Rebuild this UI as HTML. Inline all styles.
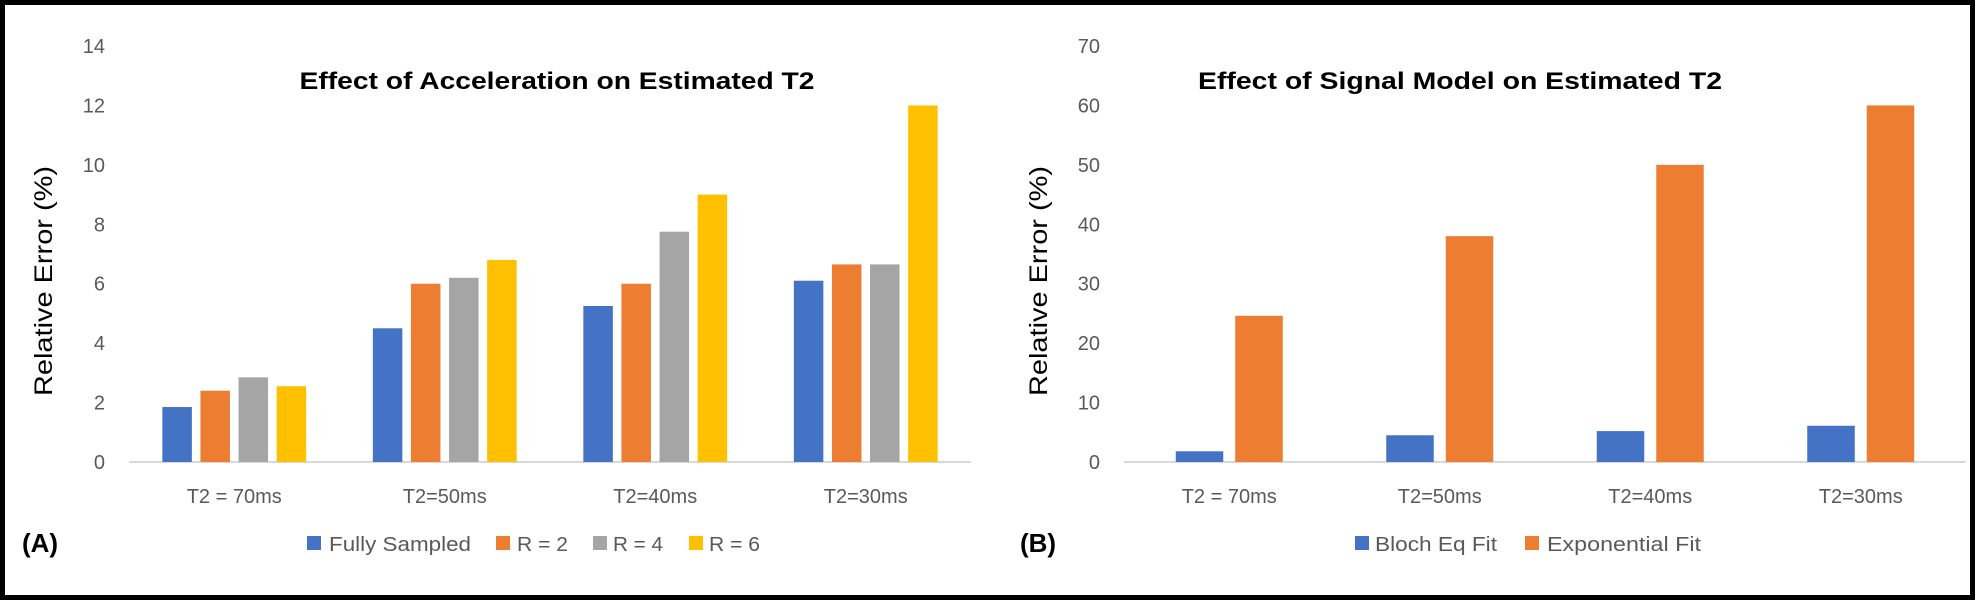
<!DOCTYPE html>
<html><head><meta charset="utf-8"><style>
html,body{margin:0;padding:0;background:#fff;width:1986px;height:600px;overflow:hidden}
svg{display:block;font-family:"Liberation Sans",sans-serif}
</style></head><body>
<svg id="fig" width="1986" height="600" viewBox="0 0 1986 600">
<rect x="2.5" y="2.5" width="1970" height="595" fill="none" stroke="#000" stroke-width="5"/>
</svg>
<script>
const categories = ["T2 = 70ms","T2=50ms","T2=40ms","T2=30ms"];
const seriesA = ["Fully Sampled","R = 2","R = 4","R = 6"];
const valuesA_full = [1.85,4.5,5.25,6.1];
const valuesA_r2 = [2.4,6.0,6.0,6.65];
const valuesA_r4 = [2.85,6.2,7.75,6.65];
const valuesA_r6 = [2.55,6.8,9.0,12.0];
const ticksA = [0,2,4,6,8,10,12,14];
const seriesB = ["Bloch Eq Fit","Exponential Fit"];
const valuesB_bloch = [1.8,4.5,5.2,6.1];
const valuesB_exp = [24.6,38,50,60];
const ticksB = [0,10,20,30,40,50,60,70];

const NS="http://www.w3.org/2000/svg";
const svg=document.getElementById('fig');
function mk(tag,attrs,parent,text){const e=document.createElementNS(NS,tag);for(const k in attrs)e.setAttribute(k,attrs[k]);if(text!=null)e.textContent=text;(parent||svg).appendChild(e);return e;}

function chart(cfg){
  const g=mk('g',{});
  
  
  const y0=462,yTop=46,maxV=cfg.ticks[cfg.ticks.length-1];
  const yS=v=>y0-(v/maxV)*(y0-yTop);
  const step=(cfg.x1-cfg.x0)/cfg.cats.length;
  const xC=i=>cfg.x0+step*(i+0.5);
  cfg.ticks.forEach(t=>{
    const e=mk('text',{x:cfg.tickX,y:yS(t)+7,'text-anchor':'end','font-size':20,fill:'#595959'},g,String(t));
    
    
  });
  const ax=mk('line',{x1:cfg.x0,x2:cfg.x1,y1:y0,y2:y0,stroke:'#d9d9d9','stroke-width':2},g);
  
  
  const n=cfg.series.length,groupW=n*cfg.bw+(n-1)*cfg.gap;
  cfg.series.forEach((vals,s)=>{
    vals.forEach((v,i)=>{
      const x=xC(i)-groupW/2+s*(cfg.bw+cfg.gap);
      const r=mk('rect',{x:x,y:yS(v),width:cfg.bw,height:y0-yS(v),fill:cfg.colors[s]},g);
      
      
    });
  });
  cfg.cats.forEach((c,i)=>{
    const e=mk('text',{x:xC(i),y:503,'text-anchor':'middle','font-size':20,fill:'#595959'},g,c);
    
    
  });
  const tt=mk('text',{x:cfg.titleX,y:89,'text-anchor':'middle','font-size':24,'font-weight':'bold',fill:'#000',textLength:cfg.titleW,lengthAdjust:'spacingAndGlyphs'},g,cfg.title);
  
  
  const yt=mk('text',{x:0,y:0,'text-anchor':'middle','font-size':25,fill:'#000',transform:`translate(${cfg.yTitleX},281) rotate(-90)`,textLength:230,lengthAdjust:'spacingAndGlyphs'},g,'Relative Error (%)');
  
  
  cfg.legend.forEach((L,s)=>{
    const sq=mk('rect',{x:L[0],y:536,width:14,height:14,fill:cfg.colors[s]},g);
    
    
    const lt=mk('text',{x:L[1],y:551,'font-size':20,fill:'#595959',textLength:L[2],lengthAdjust:'spacingAndGlyphs'},g,cfg.seriesNames[s]);
    
    
  });
  const pl=mk('text',{x:cfg.panelX,y:552,'font-size':26,'font-weight':'bold',fill:'#000'},g,cfg.panel);
  
  
}

chart({name:'chart-a',prefix:'a',x0:129,x1:971,cats:categories,ticks:ticksA,tickX:105,
  series:[valuesA_full,valuesA_r2,valuesA_r4,valuesA_r6],seriesNames:seriesA,
  colors:['#4472c4','#ed7d31','#a5a5a5','#ffc000'],bw:29.5,gap:8.6,
  title:'Effect of Acceleration on Estimated T2',titleX:557,titleW:515,yTitleX:52,
  legend:[[307,329,142],[496,517,51],[593,613,50],[689,709,51]],panel:'(A)',panelX:22});
chart({name:'chart-b',prefix:'b',x0:1124,x1:1966,cats:categories,ticks:ticksB,tickX:1100,
  series:[valuesB_bloch,valuesB_exp],seriesNames:seriesB,
  colors:['#4472c4','#ed7d31'],bw:47.5,gap:12,
  title:'Effect of Signal Model on Estimated T2',titleX:1460,titleW:524,yTitleX:1047,
  legend:[[1355,1375,122],[1525,1547,154]],panel:'(B)',panelX:1020});
</script>
</body></html>
